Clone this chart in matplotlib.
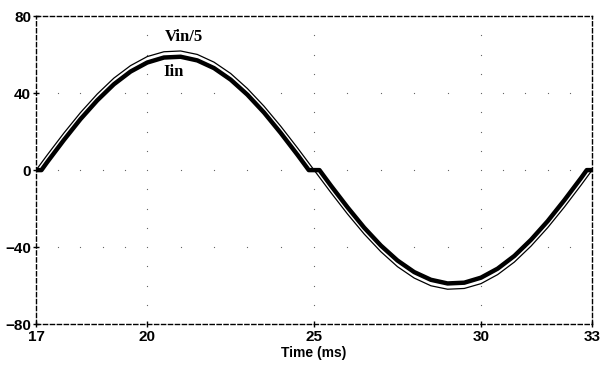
import matplotlib
matplotlib.use("Agg")
import matplotlib.pyplot as plt
import numpy as np

# Vin/5 waveform (one 60 Hz period)
t_vin = [16.67, 17.0, 17.5, 18.0, 18.5, 19.0, 19.5, 20.0, 20.5, 21.0, 21.5, 22.0,
         22.5, 23.0, 23.5, 24.0, 24.5, 25.0, 25.5, 26.0, 26.5, 27.0, 27.5, 28.0,
         28.5, 29.0, 29.5, 30.0, 30.5, 31.0, 31.5, 32.0, 32.5, 33.0, 33.33]
vin5 = [0, 7.8, 19.2, 29.9, 39.5, 47.8, 54.3, 59.0, 61.5, 61.9, 60.1, 56.1,
        50.2, 42.4, 33.2, 22.8, 11.6, 0, -11.6, -22.8, -33.2, -42.4, -50.2, -56.1,
        -60.1, -61.9, -61.5, -59.0, -54.3, -47.8, -39.5, -29.9, -19.2, -7.8, 0]

# Iin waveform (dead zone around the zero crossings)
t_iin = [16.67, 16.83, 17.0, 17.5, 18.0, 18.5, 19.0, 19.5, 20.0, 20.5, 21.0, 21.5,
         22.0, 22.5, 23.0, 23.5, 24.0, 24.5, 24.84, 25.16, 25.5, 26.0, 26.5, 27.0,
         27.5, 28.0, 28.5, 29.0, 29.5, 30.0, 30.5, 31.0, 31.5, 32.0, 32.5, 33.0,
         33.17, 33.33]
iin = [0, 0, 4.1, 15.6, 26.5, 36.2, 44.6, 51.2, 55.9, 58.5, 58.9, 57.0,
       53.0, 47.0, 39.2, 29.9, 19.3, 8.0, 0, 0, -8.0, -19.3, -29.9, -39.2,
       -47.0, -53.0, -57.0, -58.9, -58.5, -55.9, -51.2, -44.6, -36.2, -26.5, -15.6, -4.1,
       0, 0]

x_ticks = [50 / 3, 20, 25, 30, 100 / 3]
x_labels = ["17", "20", "25", "30", "33"]
y_ticks = [-80, -40, 0, 40, 80]

fig = plt.figure(figsize=(6.0, 3.67), dpi=100)
ax = fig.add_axes([0.06, 0.117, 0.927, 0.839])

ax.plot(t_vin, vin5, color="black", linewidth=0.9, zorder=3)
ax.plot(t_iin, iin, color="black", linewidth=3.2, zorder=2,
        solid_joinstyle="round")

ax.set_xlim(x_ticks[0], x_ticks[-1])
ax.set_ylim(-80, 80)

# dotted grid: minor divisions shown as single dots on the major lines
minor_x = []
for a, b in zip(x_ticks[:-1], x_ticks[1:]):
    minor_x += list(np.linspace(a, b, 6)[1:-1])
minor_x += x_ticks[1:-1]
for yv in y_ticks[1:-1]:
    ax.plot(minor_x, [yv] * len(minor_x), linestyle="none", marker="s",
            markersize=0.8, markeredgewidth=0, color="#666666", zorder=1)
minor_y = [v for v in np.arange(-70, 80, 10) if v % 40 != 0]
for xv in x_ticks[1:-1]:
    ax.plot([xv] * len(minor_y), minor_y, linestyle="none", marker="s",
            markersize=0.8, markeredgewidth=0, color="#666666", zorder=1)

for side in ["left", "right", "top", "bottom"]:
    ax.spines[side].set_linestyle((0, (3, 2)))
    ax.spines[side].set_linewidth(1.0)

ax.set_xticks(x_ticks)
ax.set_xticklabels(x_labels)
ax.set_yticks(y_ticks)
ax.tick_params(direction="inout", length=5, width=1.0, pad=1, labelsize=11)
ax.tick_params(axis="x", pad=2)
for lab in ax.get_xticklabels() + ax.get_yticklabels():
    lab.set_fontweight("bold")
    lab.set_family("Liberation Sans")

ax.set_xlabel("Time (ms)", fontsize=10, fontweight="bold",
              family="Liberation Sans", labelpad=1)

ax.text(21.1, 69, "Vin/5", fontsize=12, fontweight="bold",
        family="Liberation Serif", ha="center", va="center")
ax.text(20.8, 51, "Iin", fontsize=12, fontweight="bold",
        family="Liberation Serif", ha="center", va="center")

fig.savefig("out.png", dpi=100)
